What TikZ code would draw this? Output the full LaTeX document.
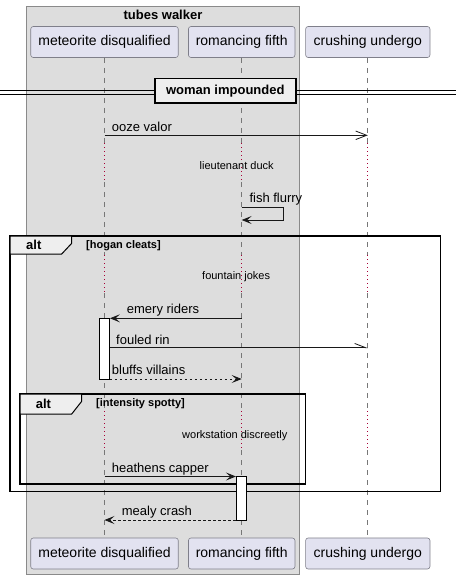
\documentclass[tikz,border=0pt]{standalone}
\usepackage{fontspec}
\setmainfont{Liberation Sans}
\usetikzlibrary{arrows.meta}
\definecolor{partfill}{HTML}{E2E2F0}
\definecolor{partdraw}{HTML}{7F7F8A}
\definecolor{boxfill}{HTML}{DDDDDD}
\definecolor{boxdraw}{HTML}{8A8A8A}
\definecolor{delayred}{HTML}{A80036}
\definecolor{lifegray}{HTML}{777777}
\definecolor{tabfill}{HTML}{EEEEEE}
\definecolor{ink}{HTML}{181818}
\tikzset{
  participant/.style={draw=partdraw, fill=partfill, rounded corners=2.5pt, minimum height=31pt, inner sep=0pt, font=\fontsize{14}{16}\selectfont, line width=0.6pt},
  lifeline/.style={draw=lifegray, line width=0.7pt, dash pattern=on 5pt off 5pt},
  delayline/.style={draw=delayred, line width=1.1pt, dash pattern=on 1.2pt off 2.8pt},
  msg/.style={draw=ink, line width=0.8pt},
  msgret/.style={draw=ink, line width=0.8pt, dash pattern=on 2.5pt off 2.5pt},
  filledtip/.style={-{Stealth[length=10pt,width=8pt,inset=4.5pt]}},
  msglabel/.style={anchor=base west, inner sep=0pt, font=\fontsize{13}{15}\selectfont, text=black},
  delaylabel/.style={anchor=base west, inner sep=0pt, font=\fontsize{11}{13}\selectfont, text=black},
  condlabel/.style={anchor=base west, inner sep=0pt, font=\bfseries\fontsize{11}{13}\selectfont, text=black},
  altlabel/.style={anchor=base west, inner sep=0pt, font=\bfseries\fontsize{13}{15}\selectfont, text=black},
  frame/.style={draw=black, line width=1.5pt},
  tabshape/.style={draw=black, fill=tabfill, line width=1pt},
  actbox/.style={draw=black, fill=white, line width=0.8pt, inner sep=0pt, minimum width=10pt},
}
\begin{document}
\begin{tikzpicture}[x=1pt,y=-1pt]
\useasboundingbox (0,0) rectangle (456,579);
\fill[white] (0,0) rectangle (456,579);
% box
\filldraw[fill=boxfill, draw=boxdraw, line width=0.8pt] (26.7,6.2) rectangle (299.3,574.2);
\node[anchor=base, inner sep=0pt, font=\bfseries\fontsize{13}{15}\selectfont] (boxtitle) at (163,19) {tubes walker};
% participants
\node[participant, minimum width=147.5pt] (m1) at (104.5,42) {meteorite disqualified};
\node[participant, minimum width=106.5pt] (r1) at (241.7,42) {romancing fifth};
\node[participant, minimum width=124.3pt] (c1) at (367.8,42) {crushing undergo};
\node[participant, minimum width=147.5pt] (m2) at (104.5,553.5) {meteorite disqualified};
\node[participant, minimum width=106.5pt] (r2) at (241.7,553.5) {romancing fifth};
\node[participant, minimum width=124.3pt] (c2) at (367.8,553.5) {crushing undergo};
% delay ranges
\coordinate (d1a) at (0,143); \coordinate (d1b) at (0,182);
\coordinate (d2a) at (0,255); \coordinate (d2b) at (0,293);
\coordinate (d3a) at (0,411); \coordinate (d3b) at (0,450);
\foreach \p/\q in {m1/m2, r1/r2, c1/c2}{
  \draw[lifeline] (\p.south) -- (\p.south |- d1a);
  \draw[delayline] (\p.south |- d1a) -- (\p.south |- d1b);
  \draw[lifeline] (\p.south |- d1b) -- (\p.south |- d2a);
  \draw[delayline] (\p.south |- d2a) -- (\p.south |- d2b);
  \draw[lifeline] (\p.south |- d2b) -- (\p.south |- d3a);
  \draw[delayline] (\p.south |- d3a) -- (\p.south |- d3b);
  \draw[lifeline] (\p.south |- d3b) -- (\q.north);
}
% divider
\coordinate (dl) at (0,90.7); \coordinate (dr) at (456,90.7);
\coordinate (dl2) at (0,94.7); \coordinate (dr2) at (456,94.7);
\draw[draw=black, line width=0.9pt] (dl) -- (dr);
\draw[draw=black, line width=0.9pt] (dl2) -- (dr2);
\node[draw=black, fill=tabfill, line width=1.8pt, minimum width=141pt, minimum height=24.5pt, inner sep=0pt, font=\bfseries\fontsize{13}{15}\selectfont] (div) at (225.3,90.7) {woman impounded};
% ooze valor
\coordinate (y1) at (0,135.3);
\draw[msg, -{Straight Barb[length=11pt,width=8.5pt]}] (m1.south |- y1) -- (c1.south |- y1);
\node[msglabel] (l1) at (111.7,131) {ooze valor};
\node[delaylabel] (dt1) at (199.5,169) {lieutenant duck};
% fish flurry self message
\coordinate (fa) at (0,207.3); \coordinate (fb) at (0,220); \coordinate (fc) at (283.3,0);
\draw[msg, filledtip] (r1.south |- fa) -- (fc |- fa) -- (fc |- fb) -- (r1.south |- fb);
\node[msglabel] (l2) at (249.3,202.5) {fish flurry};
% outer alt
\draw[frame] (10,236) rectangle (440.7,491.7);
\draw[tabshape] (10,236) -- (71.7,236) -- (71.7,243.3) -- (61.7,254) -- (10,254) -- cycle;
\node[altlabel] (alt1) at (26,249.3) {alt};
\node[condlabel] (cond1) at (86,248) {[hogan cleats]};
\node[delaylabel] (dt2) at (202,279.5) {fountain jokes};
% activation on meteorite
\node[actbox, minimum height=60.7pt] (act1) at (104.5,348.7) {};
\coordinate (y3) at (0,318.3);
\draw[msg, filledtip] (r1.south |- y3) -- (act1.east |- y3);
\node[msglabel] (l3) at (126.7,313.8) {emery riders};
\coordinate (y4) at (0,347.7);
\draw[msg, -{Straight Barb[left,length=11pt,width=8.5pt]}] (act1.east |- y4) -- (c1.south |- y4);
\node[msglabel] (l4) at (116,344.3) {fouled rin};
\coordinate (y5) at (0,379);
\draw[msgret, filledtip] (act1.east |- y5) -- (r1.south |- y5);
\node[msglabel] (l5) at (111.7,374.3) {bluffs villains};
% inner alt
\draw[frame] (20,394) rectangle (305.7,484);
\draw[tabshape] (20,394) -- (81.7,394) -- (81.7,401.3) -- (71.7,414) -- (20,414) -- cycle;
\node[altlabel] (alt2) at (35.7,408.3) {alt};
\node[condlabel] (cond2) at (96,406.8) {[intensity spotty]};
\node[delaylabel] (dt3) at (182,438) {workstation discreetly};
% activation on romancing
\node[actbox, minimum height=44pt] (act2) at (241.3,498.2) {};
\coordinate (y6) at (0,476.5);
\draw[msg, filledtip] (m1.south |- y6) -- (act2.west |- y6);
\node[msglabel] (l6) at (111.7,472) {heathens capper};
\coordinate (y7) at (0,520);
\draw[msgret, filledtip] (act2.west |- y7) -- (m1.south |- y7);
\node[msglabel] (l7) at (121.7,515.7) {mealy crash};
\end{tikzpicture}
\end{document}
